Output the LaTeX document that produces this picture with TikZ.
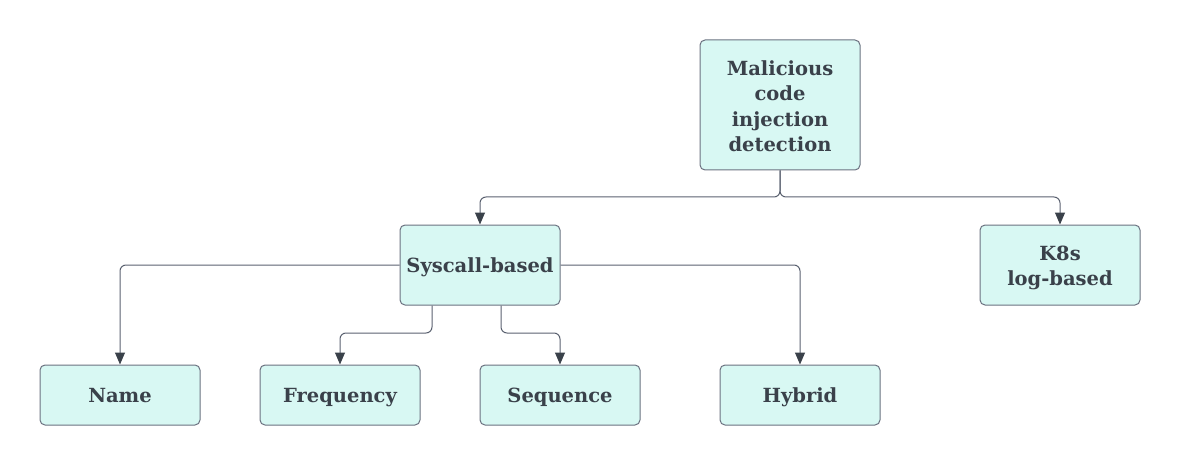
\documentclass[tikz,border=0pt]{standalone}
\usepackage{fontspec}
\setmainfont{DejaVu Serif}
\usetikzlibrary{arrows.meta}
\definecolor{boxfill}{HTML}{D8F8F3}
\definecolor{boxline}{HTML}{6B7280}
\definecolor{txt}{HTML}{3A414A}
\definecolor{wire}{HTML}{5A6170}
\tikzset{
  box/.style={draw=boxline, fill=boxfill, rounded corners=5pt, line width=1pt,
    minimum width=160pt, align=center, text=txt,
    font=\fontsize{19.5}{25.5}\selectfont\bfseries, inner sep=0pt},
  oneline/.style={text height=16pt, text depth=2pt},
  wireline/.style={draw=wire, line width=1pt, rounded corners=6pt,
    -{Triangle[length=12pt,width=10pt,fill=txt,color=txt]}},
}
\newcommand\lowerby[2]{\raisebox{-#1}[\height][\depth]{\begin{tabular}{@{}c@{}}#2\end{tabular}}}
\begin{document}
\begin{tikzpicture}[x=1pt,y=-1pt]
\useasboundingbox (0,0) rectangle (1180,465);
\node[box, minimum height=130pt] (top) at (780,105) {\lowerby{3.5pt}{Malicious\\code\\injection\\detection}};
\node[box, oneline, minimum height=80pt] (sys) at (480,265) {Syscall-based};
\node[box, minimum height=80pt] (k8s) at (1060,265) {\lowerby{3pt}{K8s\\log-based}};
\node[box, oneline, minimum height=60pt] (name) at (120,395) {Name};
\node[box, oneline, minimum height=60pt] (freq) at (340,395) {Frequency};
\node[box, oneline, minimum height=60pt] (seq) at (560,395) {Sequence};
\node[box, oneline, minimum height=60pt] (hyb) at (800,395) {Hybrid};
\draw[wireline] (top.south) |- (480,197) -- (sys.north);
\draw[wireline] (top.south) |- (1060,197) -- (k8s.north);
\draw[wireline] (sys.west) -| (name.north);
\draw[wireline] (sys.east) -| (hyb.north);
\draw[wireline] (sys.south -| 432,0) |- (340,333) -- (freq.north);
\draw[wireline] (sys.south -| 501,0) |- (560,333) -- (seq.north);
\end{tikzpicture}
\end{document}
